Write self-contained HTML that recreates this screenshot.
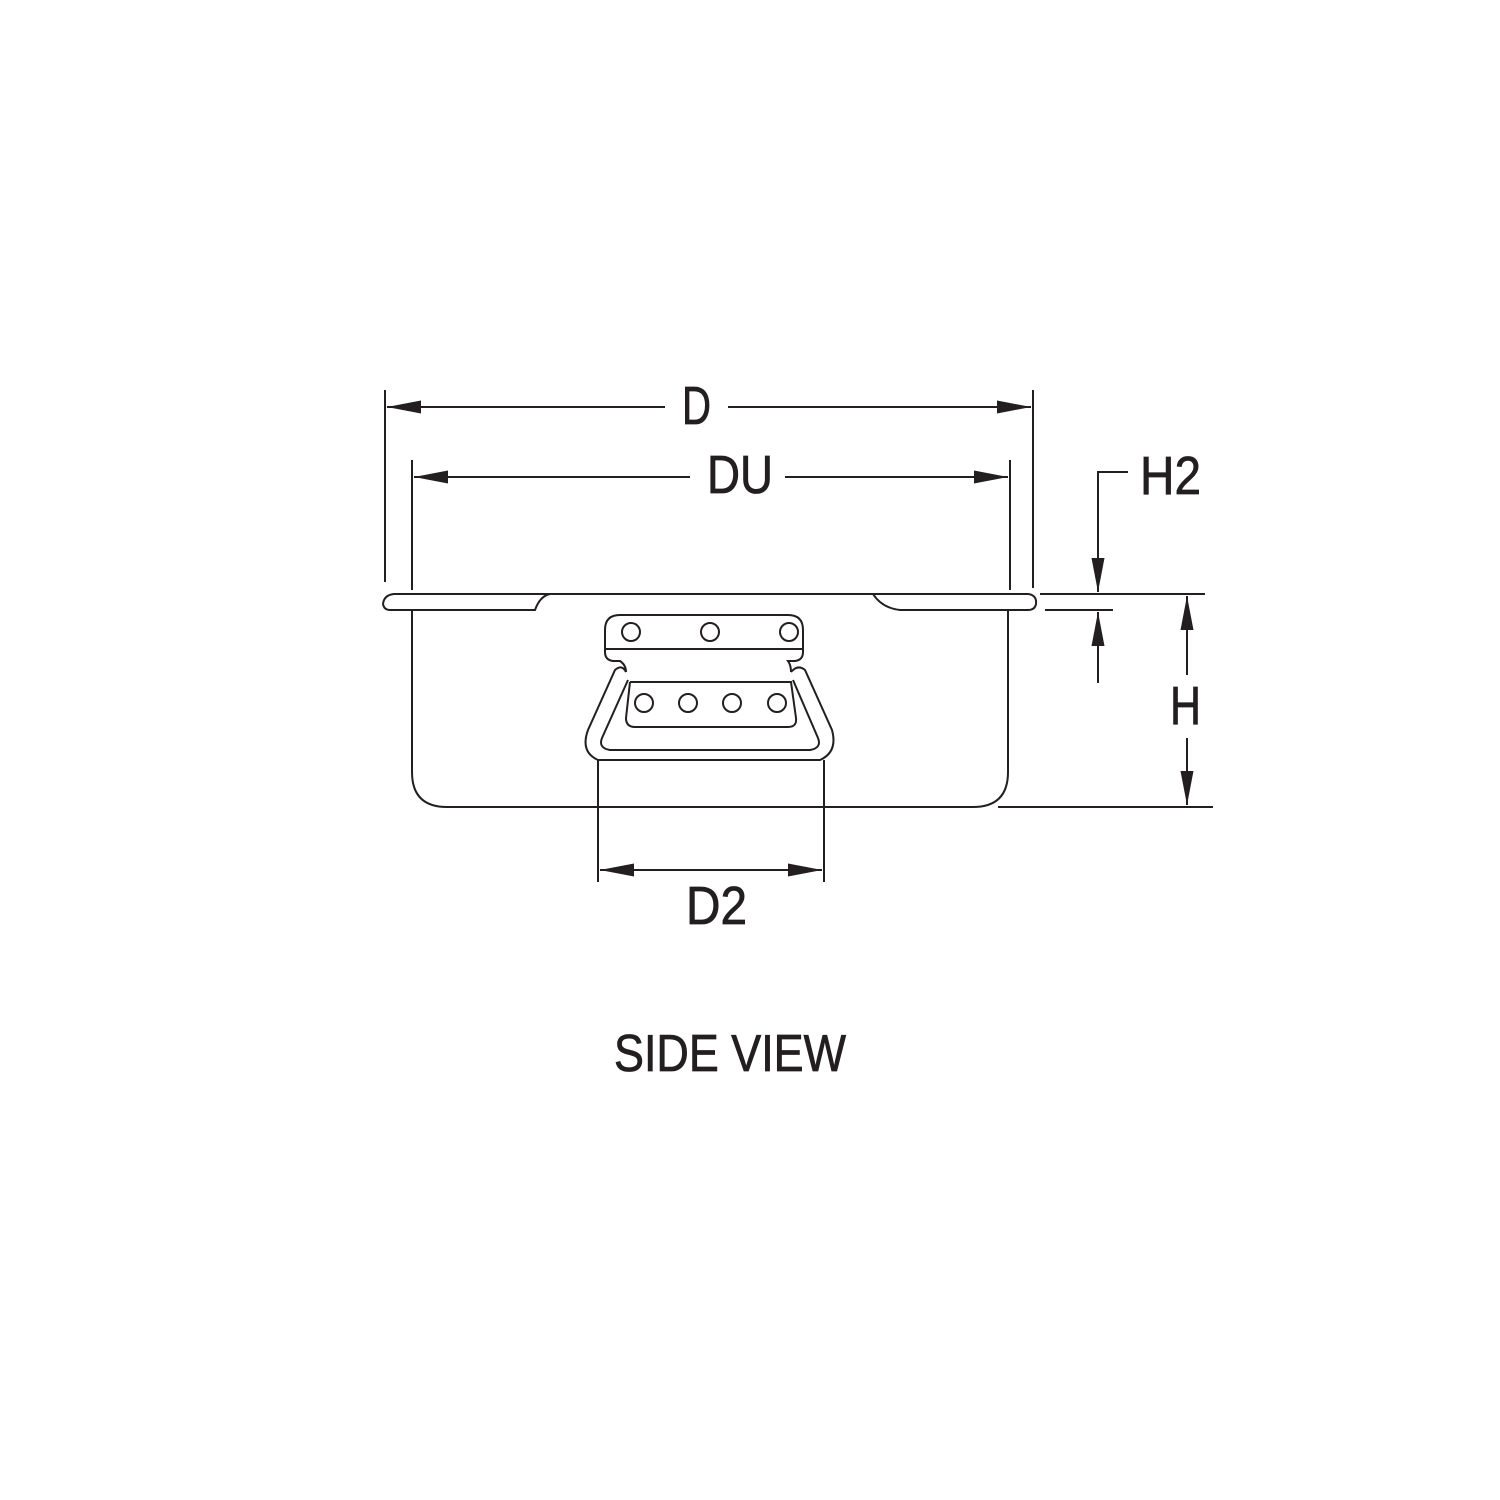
<!DOCTYPE html>
<html><head><style>html,body{margin:0;padding:0;background:#fff}svg{display:block}text{font-family:"Liberation Sans",sans-serif;fill:#231f20}</style></head>
<body>
<svg width="1500" height="1500" viewBox="0 0 1500 1500" xmlns="http://www.w3.org/2000/svg">
<defs>
<marker id="a" viewBox="0 0 10 10" refX="10" refY="5" markerWidth="34" markerHeight="13" markerUnits="userSpaceOnUse" orient="auto" preserveAspectRatio="none"><path d="M0,0L10,5L0,10Z" fill="#231f20"/></marker>
</defs>
<g stroke="#231f20" stroke-width="2" fill="none">
<line x1="385" y1="390" x2="385" y2="582"/>
<line x1="1033" y1="390" x2="1033" y2="588"/>
<line x1="412" y1="460" x2="412" y2="590"/>
<line x1="1010" y1="460" x2="1010" y2="590"/>
<line x1="665" y1="407" x2="387" y2="407" marker-end="url(#a)"/>
<line x1="728" y1="407" x2="1031" y2="407" marker-end="url(#a)"/>
<line x1="690" y1="477" x2="414" y2="477" marker-end="url(#a)"/>
<line x1="785" y1="477" x2="1008" y2="477" marker-end="url(#a)"/>
<path d="M390,610 L535,610 Q540,596 550,594 L1028,594 Q1037,595 1036,604 Q1035,610 1028,610 L900,610 Q882,608 873,594"/>
<path d="M550,594 L394,594 Q384,595 383,604 Q384,610 390,610"/>
<path d="M412,610 L412,772 Q412,807 447,807 L973,807 Q1008,807 1008,772 L1008,610"/>
<path d="M620,615 L788,615 Q803,615 803,630 L803,652 Q803,660 795,661 L788,661 Q791,665 791,672 M620,615 Q605,615 605,630 L605,652 Q605,660 613,661 L620,661 Q626,665 626,672"/>
<line x1="606" y1="649" x2="802" y2="649"/>
<path d="M630,682 L791,682 L796,718 Q797,727 788,727 L635,727 Q626,727 626,718 L630,682"/>
<circle cx="631" cy="632" r="9"/><circle cx="710" cy="632" r="9"/><circle cx="789" cy="632" r="9"/>
<circle cx="644" cy="703" r="9"/><circle cx="688" cy="703" r="9"/><circle cx="732" cy="703" r="9"/><circle cx="777" cy="703" r="9"/>
<path d="M626,672 Q622,664 615,670 L588,730 Q580,752 598,760 L820,760 Q838,752 832,730 L805,670 Q798,664 791,672"/>
<path d="M628,680 L602,738 Q598,748 610,750 L810,750 Q822,748 818,738 L793,680"/>
<line x1="598" y1="760" x2="598" y2="882"/>
<line x1="824" y1="760" x2="824" y2="882"/>
<line x1="700" y1="870" x2="600" y2="870" marker-end="url(#a)"/>
<line x1="700" y1="870" x2="822" y2="870" marker-end="url(#a)"/>
<path d="M1128,472 L1098,472 L1098,592" marker-end="url(#a)"/>
<line x1="1040" y1="594" x2="1205" y2="594"/>
<line x1="1045" y1="610" x2="1113" y2="610"/>
<line x1="1098" y1="683" x2="1098" y2="612" marker-end="url(#a)"/>
<line x1="1187" y1="675" x2="1187" y2="596" marker-end="url(#a)"/>
<line x1="1187" y1="738" x2="1187" y2="805" marker-end="url(#a)"/>
<line x1="998" y1="807" x2="1213" y2="807"/>
</g>
<g font-size="54" stroke="#231f20" stroke-width="0.8">
<text x="682" y="424" textLength="29" lengthAdjust="spacingAndGlyphs">D</text>
<text x="707" y="493" textLength="66" lengthAdjust="spacingAndGlyphs">DU</text>
<text x="1140" y="494" textLength="61" lengthAdjust="spacingAndGlyphs">H2</text>
<text x="1170" y="724" textLength="31" lengthAdjust="spacingAndGlyphs">H</text>
<text x="686" y="924" textLength="61" lengthAdjust="spacingAndGlyphs">D2</text>
<text x="614" y="1071" font-size="52" textLength="232" lengthAdjust="spacingAndGlyphs">SIDE VIEW</text>
</g>
</svg>
</body></html>
